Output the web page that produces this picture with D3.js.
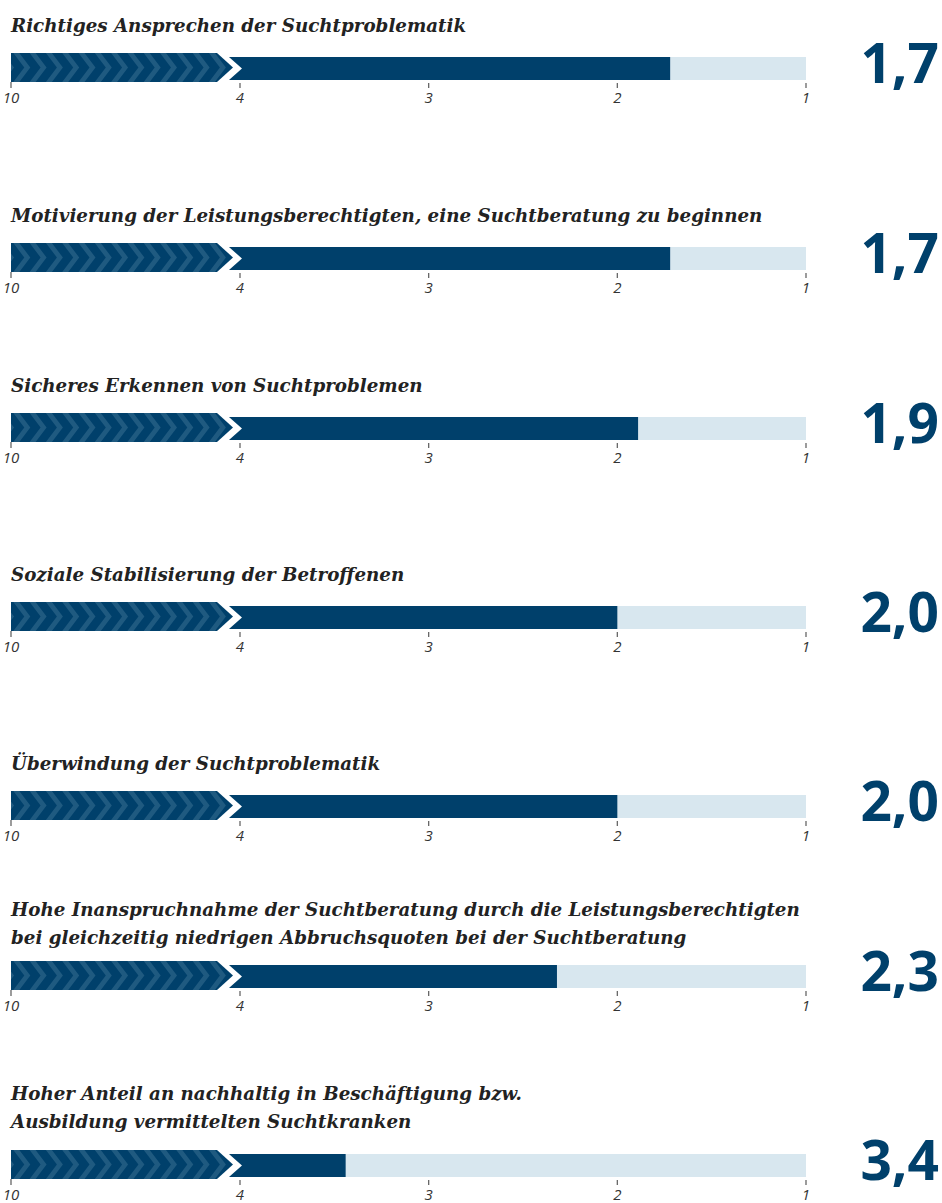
<!DOCTYPE html>
<html>
<head>
<meta charset="utf-8">
<script src="https://cdn.jsdelivr.net/npm/d3@7"></script>
<style>
  html, body { margin: 0; padding: 0; background: #fff; }
  svg { display: block; }
</style>
</head>
<body>
<svg id="chart" width="942" height="1203"></svg>
<script>
// ---- data ----
const categories = [
  "Richtiges Ansprechen der Suchtproblematik",
  "Motivierung der Leistungsberechtigten, eine Suchtberatung zu beginnen",
  "Sicheres Erkennen von Suchtproblemen",
  "Soziale Stabilisierung der Betroffenen",
  "Überwindung der Suchtproblematik",
  "Hohe Inanspruchnahme der Suchtberatung durch die Leistungsberechtigten\nbei gleichzeitig niedrigen Abbruchsquoten bei der Suchtberatung",
  "Hoher Anteil an nachhaltig in Beschäftigung bzw.\nAusbildung vermittelten Suchtkranken"
];
const values = [1.72, 1.72, 1.89, 2.0, 2.0, 2.32, 3.44];
const valueLabels = ["1,7", "1,7", "1,9", "2,0", "2,0", "2,3", "3,4"];
const tickValues = [4, 3, 2, 1];
const tickLabels = ["4", "3", "2", "1"];
const breakTickLabel = "10";

// ---- layout ----
const rowTop = [53, 243, 413, 602, 791, 961, 1150];       // top of each bar block
const titleLastBaseline = [32, 222, 392, 581, 770, 944, 1128];
const titleLineHeight = 28;
const navy = "#00406b", stripe = "#1f5a80", light = "#d8e7ef";
const leftX = 11, rightX = 806;

const svg = d3.select("#chart");
const x = d3.scaleLinear().domain([4, 1]).range([240, rightX]);

const defs = svg.append("defs");

const chevH = 29, barOff = 4, barH = 23;
const bodyEnd = x(4) - 23, tipX = x(4) - 7;
const notchStart = x(4) - 11;

categories.forEach((cat, i) => {
  const top = rowTop[i];
  const g = svg.append("g");

  // title
  const lines = cat.split("\n");
  lines.forEach((ln, j) => {
    g.append("text")
      .attr("class", "title")
      .attr("x", leftX)
      .attr("y", titleLastBaseline[i] - (lines.length - 1 - j) * titleLineHeight)
      .attr("font-family", "'DejaVu Serif', serif")
      .attr("font-weight", "bold")
      .attr("font-style", "italic")
      .attr("font-size", 18)
      .attr("fill", "#222")
      .text(ln);
  });

  // chevron (axis break 10..4)
  const chevPath = `M${leftX},${top} L${bodyEnd},${top} L${tipX},${top + chevH / 2} L${bodyEnd},${top + chevH} L${leftX},${top + chevH} Z`;
  defs.append("clipPath").attr("id", "clip" + i).append("path").attr("d", chevPath);
  g.append("path").attr("d", chevPath).attr("fill", navy);
  const sg = g.append("g").attr("clip-path", `url(#clip${i})`);
  d3.range(leftX - 14, tipX, 16.3).forEach(x0 => {
    sg.append("path")
      .attr("d", `M${x0},${top} L${x0 + 6},${top} L${x0 + 17},${top + chevH / 2} L${x0 + 6},${top + chevH} L${x0},${top + chevH} L${x0 + 11},${top + chevH / 2} Z`)
      .attr("fill", stripe);
  });

  // background bar
  const bt = top + barOff, bb = top + barOff + barH;
  const barPath = (xe) => `M${notchStart},${bt} L${xe},${bt} L${xe},${bb} L${notchStart},${bb} L${x(4) + 2},${(bt + bb) / 2} Z`;
  g.append("path").attr("d", barPath(x(1))).attr("fill", light);
  g.append("path").attr("d", barPath(x(values[i]))).attr("fill", navy);

  // ticks
  const tickTop = top + chevH + 1, tickBot = top + chevH + 6;
  const allTicks = [{ px: leftX, label: breakTickLabel }].concat(tickValues.map((v, k) => ({ px: x(v), label: tickLabels[k] })));
  allTicks.forEach(t => {
    g.append("line")
      .attr("x1", t.px).attr("x2", t.px)
      .attr("y1", t.px === leftX ? top + chevH : tickTop).attr("y2", tickBot)
      .attr("stroke", "#666").attr("stroke-width", 1.3);
    g.append("text")
      .attr("x", t.px).attr("y", top + 50)
      .attr("text-anchor", "middle")
      .attr("font-family", "'Open Sans', sans-serif")
      .attr("font-style", "italic")
      .attr("font-size", 15)
      .attr("fill", "#333")
      .text(t.label);
  });

  // value label
  g.append("text")
    .attr("x", 939).attr("y", top + 30)
    .attr("text-anchor", "end")
    .attr("font-family", "'Open Sans', sans-serif")
    .attr("font-weight", "bold")
    .attr("font-size", 55)
    .attr("fill", navy)
    .text(valueLabels[i]);
});

// fit title font so the longest line matches the reference width (~789px)
const titles = svg.selectAll("text.title");
let maxW = 0;
titles.each(function () { maxW = Math.max(maxW, this.getComputedTextLength()); });
const fs = 18 * 789 / maxW;
titles.attr("font-size", fs);
</script>
</body>
</html>
